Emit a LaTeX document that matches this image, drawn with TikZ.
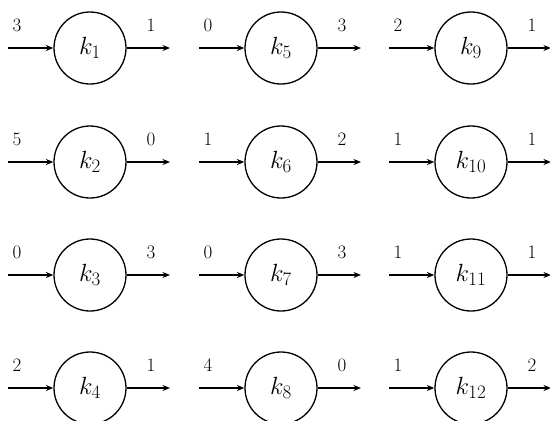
\documentclass[tikz,border=0pt]{standalone}
\usetikzlibrary{arrows.meta}
\begin{document}
\begin{tikzpicture}[x=1pt,y=-1pt,
  knode/.style={circle,draw,line width=1.3pt,minimum size=72pt,inner sep=0pt,font=\fontsize{25}{27}\selectfont},
  flow/.style={line width=1.2pt,-{Stealth[length=7.5pt,width=6pt]}},
  lab/.style={font=\fontsize{19}{21}\selectfont,inner sep=0pt}]
\useasboundingbox (0,0) rectangle (550,421);
\foreach \n/\cx/\cy/\a/\b in {
  1/90/48/3/1, 2/90/162/5/0, 3/90/275/0/3, 4/90/388/2/1,
  5/281/48/0/3, 6/281/162/1/2, 7/281/275/0/3, 8/281/388/4/0,
  9/471/48/2/1, 10/471/162/1/1, 11/471/275/1/1, 12/471/388/1/2}{
  \node[knode] (k\n) at (\cx,\cy) {$k_{\hbox{\fontsize{19}{19}\selectfont\n}}$};
  \coordinate (in\n) at (\cx-82,\cy);
  \coordinate (out\n) at (\cx+80,\cy);
  \draw[flow] (in\n) -- (k\n);
  \draw[flow] (k\n) -- (out\n);
  \node[lab] (la\n) at (\cx-73,\cy-23) {\a};
  \node[lab] (lb\n) at (\cx+61,\cy-23) {\b};
}
\end{tikzpicture}
\end{document}
